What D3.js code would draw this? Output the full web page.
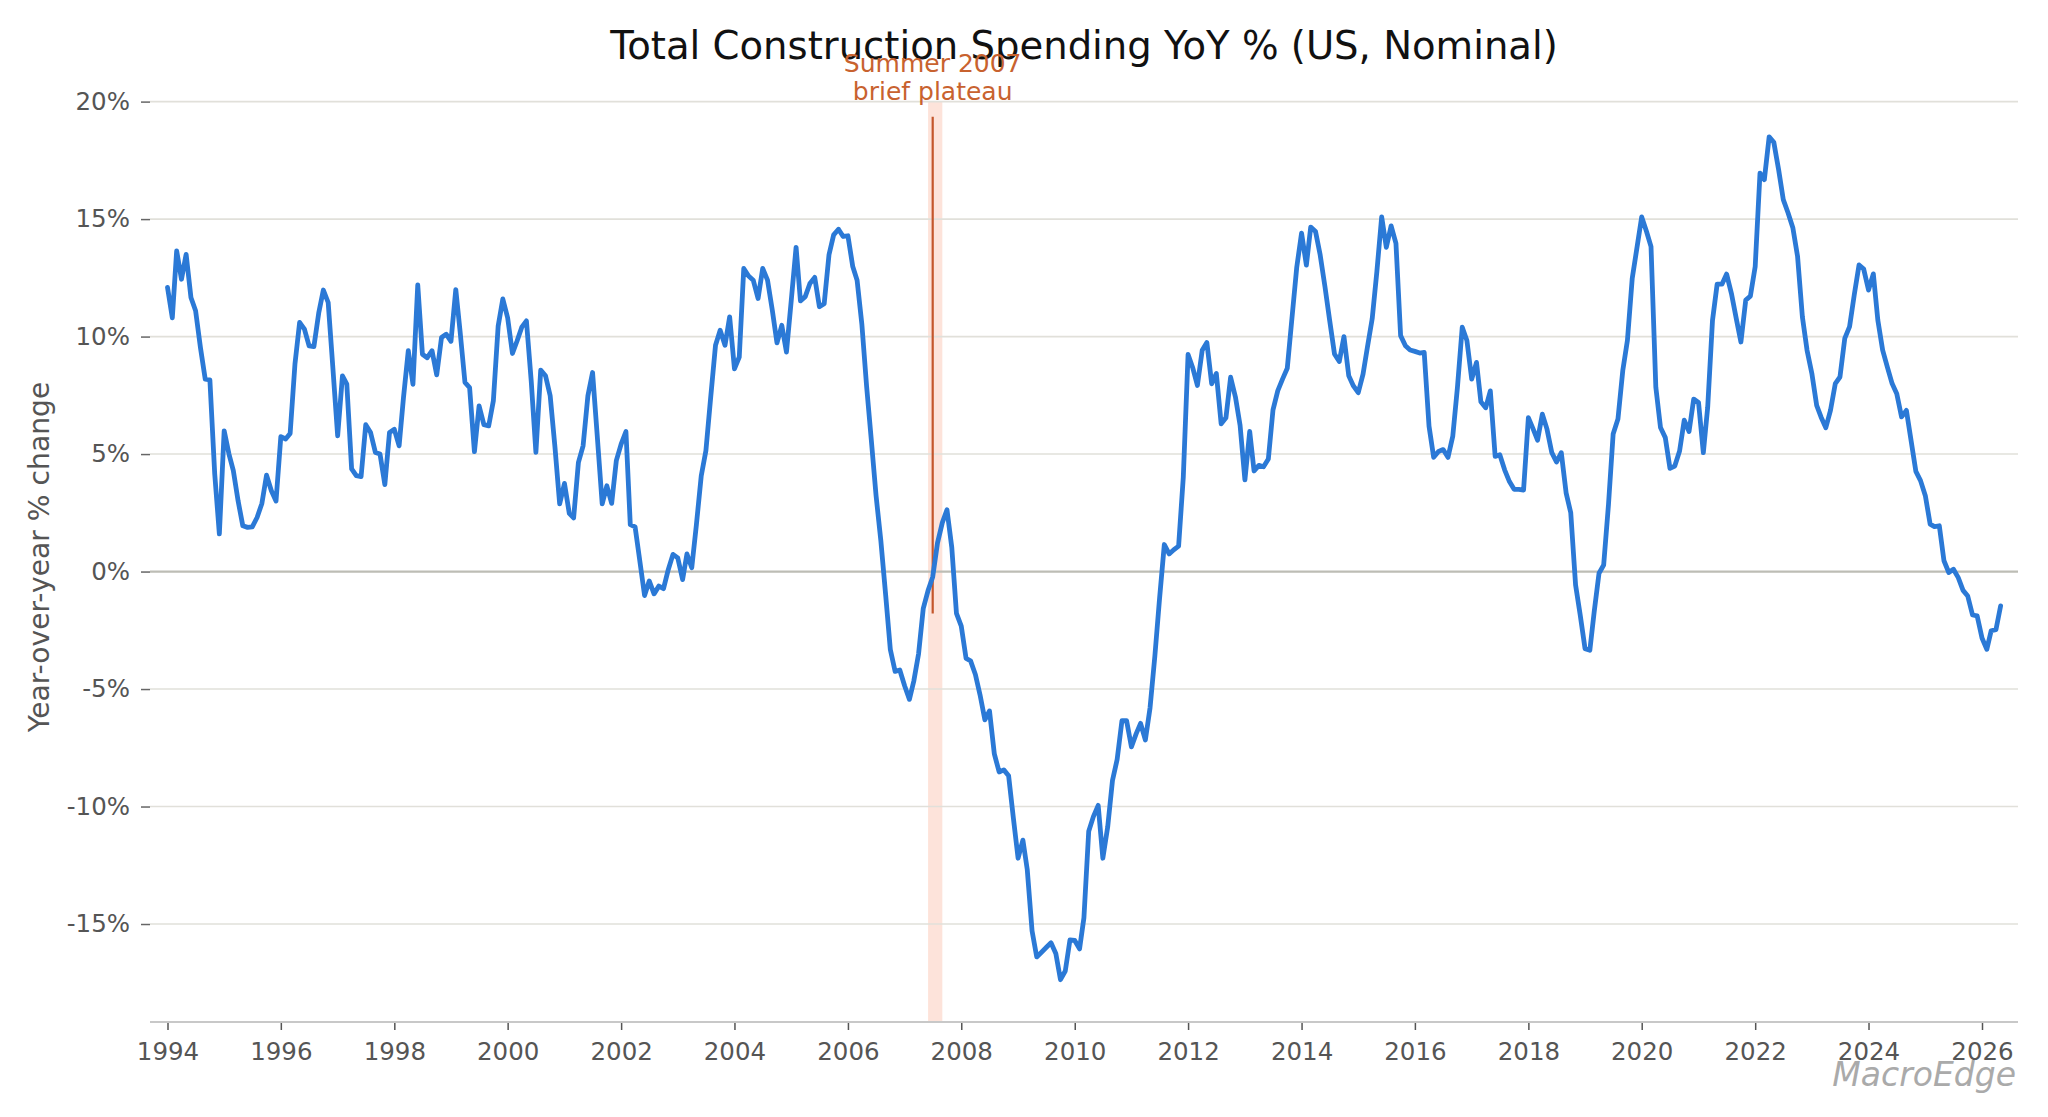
<!DOCTYPE html>
<html>
<head>
<meta charset="utf-8">
<script src="https://cdn.jsdelivr.net/npm/d3@7"></script>
<style>
  html, body { margin: 0; padding: 0; background: #ffffff; }
  svg { display: block; }
</style>
</head>
<body>
<svg id="chart" width="2048" height="1117"></svg>
<script>
// ---------------- DATA ----------------
const chartTitle = "Total Construction Spending YoY % (US, Nominal)";
const yAxisLabel = "Year-over-year % change";
const watermark = "MacroEdge";

// Monthly series start (Jan 1994), one value per month
const seriesStartYear = 1994;
const seriesStartMonth = 0;

const yoy1994_1999 = [
  12.09, 10.8, 13.65, 12.44, 13.5, 11.66, 11.1, 9.54, 8.19, 8.16, 4.17, 1.6,
  5.99, 5.0, 4.3, 3.0, 1.95, 1.88, 1.9, 2.3, 2.9, 4.1, 3.44, 3.0,
  5.74, 5.64, 5.88, 8.83, 10.6, 10.32, 9.6, 9.57, 11.0, 11.98, 11.45, 8.69,
  5.78, 8.33, 7.98, 4.37, 4.08, 4.04, 6.25, 5.92, 5.07, 5.0, 3.7, 5.92,
  6.05, 5.35, 7.4, 9.4, 7.97, 12.2, 9.25, 9.1, 9.4, 8.37, 9.96, 10.1,
  9.8, 12.0, 10.2, 8.05, 7.83, 5.1, 7.05, 6.25, 6.2, 7.27, 10.45, 11.6
];
const yoy2000_2005 = [
  10.8, 9.28, 9.8, 10.4, 10.67, 8.1, 5.07, 8.57, 8.33, 7.48, 5.28, 2.88,
  3.75, 2.48, 2.28, 4.65, 5.35, 7.48, 8.47, 5.7, 2.88, 3.65, 2.9, 4.72,
  5.42, 5.96, 2.0, 1.9, 0.47, -1.02, -0.4, -0.95, -0.62, -0.73, 0.09, 0.73,
  0.58, -0.34, 0.75, 0.16, 2.0, 4.07, 5.14, 7.42, 9.63, 10.27, 9.63, 10.84,
  8.63, 9.13, 12.9, 12.58, 12.4, 11.62, 12.9, 12.4, 11.12, 9.73, 10.48, 9.34,
  11.55, 13.8, 11.52, 11.7, 12.26, 12.52, 11.27, 11.4, 13.48, 14.33, 14.57, 14.26
];
const yoy2006_2011 = [
  14.29, 12.98, 12.4, 10.5, 7.9, 5.56, 3.24, 1.31, -1.0, -3.32, -4.25, -4.19,
  -4.86, -5.44, -4.67, -3.5, -1.58, -0.81, -0.23, 1.22, 2.08, 2.63, 1.02, -1.78,
  -2.32, -3.7, -3.8, -4.38, -5.25, -6.31, -5.93, -7.76, -8.53, -8.44, -8.69, -10.46,
  -12.2, -11.43, -12.68, -15.29, -16.4, -16.2, -16.0, -15.8, -16.25, -17.37, -17.0, -15.68,
  -15.7, -16.06, -14.74, -11.05, -10.43, -9.95, -12.2, -10.88, -8.89, -8.0, -6.35, -6.35,
  -7.46, -6.9, -6.46, -7.17, -5.8, -3.6, -1.17, 1.15, 0.75, 0.93, 1.08, 4.0
];
const yoy2012_2017 = [
  9.24, 8.65, 7.92, 9.42, 9.75, 7.99, 8.43, 6.29, 6.55, 8.27, 7.43, 6.22,
  3.9, 5.96, 4.28, 4.52, 4.46, 4.79, 6.88, 7.7, 8.2, 8.65, 10.85, 12.95,
  14.4, 13.04, 14.66, 14.47, 13.47, 12.11, 10.69, 9.26, 8.94, 10.0, 8.33, 7.9,
  7.61, 8.4, 9.54, 10.76, 12.76, 15.09, 13.8, 14.71, 13.97, 10.04, 9.61, 9.43,
  9.37, 9.3, 9.33, 6.19, 4.86, 5.11, 5.19, 4.86, 5.76, 7.83, 10.4, 9.83,
  8.19, 8.9, 7.23, 6.97, 7.69, 4.9, 4.97, 4.33, 3.83, 3.5, 3.5, 3.47
];
const yoy2018_2026 = [
  6.55, 6.06, 5.59, 6.7, 6.06, 5.06, 4.66, 5.06, 3.35, 2.5, -0.57, -1.85,
  -3.28, -3.35, -1.71, -0.07, 0.28, 2.85, 5.85, 6.49, 8.55, 9.84, 12.48, 13.76,
  15.09, 14.47, 13.83, 7.84, 6.13, 5.7, 4.39, 4.49, 5.13, 6.44, 5.96, 7.34,
  7.2, 5.06, 6.99, 10.69, 12.23, 12.23, 12.66, 11.83, 10.77, 9.77, 11.55, 11.72,
  12.98, 16.96, 16.68, 18.5, 18.27, 17.1, 15.83, 15.26, 14.62, 13.41, 10.84, 9.42,
  8.43, 7.07, 6.58, 6.12, 6.86, 8.0, 8.28, 9.92, 10.42, 11.77, 13.05, 12.87,
  11.98, 12.67, 10.7, 9.42, 8.71, 8.0, 7.57, 6.58, 6.86, 5.58, 4.26, 3.87,
  3.23, 2.02, 1.91, 1.95, 0.46, -0.04, 0.1, -0.26, -0.8, -1.04, -1.85, -1.89,
  -2.83, -3.31, -2.52, -2.47, -1.46
];

const xTickYears = [1994, 1996, 1998, 2000, 2002, 2004, 2006, 2008, 2010, 2012, 2014, 2016, 2018, 2020, 2022, 2024, 2026];
const yTickValues = [-15, -10, -5, 0, 5, 10, 15, 20];

// Annotation (Summer 2007)
const annotationLines = ["Summer 2007", "brief plateau"];
const annotationBand = [[2007, 5, 1], [2007, 8, 1]];   // Jun 1 – Sep 1 2007
const annotationLineDate = [2007, 6, 1];               // Jul 1 2007
const annotationLineRange = [-1.78, 19.35];            // % values of the marker line

// ---------------- BUILD ----------------
const allValues = [].concat(yoy1994_1999, yoy2000_2005, yoy2006_2011, yoy2012_2017, yoy2018_2026);
const series = allValues.map((v, i) => ({
  date: new Date(seriesStartYear, seriesStartMonth + i, 1),
  value: v
}));

const plotLeft = 150, plotRight = 2018;
const svg = d3.select("#chart");
const FONT = "'DejaVu Sans', 'Liberation Sans', sans-serif";

const x = d3.scaleTime()
  .domain([new Date(1994, 0, 1), new Date(2026, 0, 1)])
  .range([167.5, 1982]);

const y = d3.scaleLinear()
  .domain([-19.17, 20])
  .range([1022, 101.6]);

// annotation band (behind)
svg.append("rect")
  .attr("x", x(new Date(...annotationBand[0])))
  .attr("y", y(20))
  .attr("width", x(new Date(...annotationBand[1])) - x(new Date(...annotationBand[0])))
  .attr("height", y(-19.17) - y(20))
  .attr("fill", "#f7a386")
  .attr("fill-opacity", 0.3);

// gridlines
svg.append("g").selectAll("line")
  .data(yTickValues)
  .join("line")
  .attr("x1", plotLeft).attr("x2", plotRight)
  .attr("y1", d => y(d)).attr("y2", d => y(d))
  .attr("stroke", d => d === 0 ? "#bdbdb5" : "#e1e0da")
  .attr("stroke-width", d => d === 0 ? 2.2 : 1.6);

// y axis
const yAxis = d3.axisLeft(y)
  .tickValues(yTickValues)
  .tickSize(9)
  .tickPadding(11)
  .tickFormat(d => d + "%");
const gy = svg.append("g").attr("transform", `translate(${plotLeft},0)`).call(yAxis);
gy.select(".domain").remove();
gy.selectAll(".tick line").attr("stroke", "#666").attr("stroke-width", 1.5);
gy.selectAll(".tick text")
  .attr("fill", "#555")
  .style("font-family", FONT)
  .style("font-size", "24.5px");

// x axis
const xAxis = d3.axisBottom(x)
  .tickValues(xTickYears.map(yr => new Date(yr, 0, 1)))
  .tickSize(8)
  .tickPadding(13)
  .tickFormat(d => String(d.getFullYear()));
const gx = svg.append("g").attr("transform", `translate(0,${y(-19.17)})`).call(xAxis);
gx.select(".domain").remove();
gx.selectAll(".tick line").attr("stroke", "#555").attr("stroke-width", 1.5);
gx.selectAll(".tick text")
  .attr("fill", "#555")
  .style("font-family", FONT)
  .style("font-size", "24.5px");

// bottom spine
svg.append("line")
  .attr("x1", plotLeft).attr("x2", plotRight)
  .attr("y1", y(-19.17)).attr("y2", y(-19.17))
  .attr("stroke", "#c8c8c8")
  .attr("stroke-width", 2);

// annotation marker line
svg.append("line")
  .attr("x1", x(new Date(...annotationLineDate)))
  .attr("x2", x(new Date(...annotationLineDate)))
  .attr("y1", y(annotationLineRange[1]))
  .attr("y2", y(annotationLineRange[0]))
  .attr("stroke", "#c4562b")
  .attr("stroke-width", 2.2);

// data line
const line = d3.line()
  .x(d => x(d.date))
  .y(d => y(d.value));
svg.append("path")
  .datum(series)
  .attr("d", line)
  .attr("fill", "none")
  .attr("stroke", "#2b79d6")
  .attr("stroke-width", 4.8)
  .attr("stroke-linejoin", "round")
  .attr("stroke-linecap", "round");

// title
svg.append("text")
  .attr("x", (plotLeft + plotRight) / 2)
  .attr("y", 58.5)
  .attr("text-anchor", "middle")
  .attr("fill", "#111")
  .style("font-family", FONT)
  .style("font-size", "38.6px")
  .text(chartTitle);

// annotation text
const annX = x(new Date(...annotationLineDate));
svg.append("g").selectAll("text")
  .data(annotationLines)
  .join("text")
  .attr("x", annX)
  .attr("y", (d, i) => 72 + i * 28)
  .attr("text-anchor", "middle")
  .attr("fill", "#c8622f")
  .style("font-family", FONT)
  .style("font-size", "25px")
  .text(d => d);

// y axis label
svg.append("text")
  .attr("transform", `translate(49,557) rotate(-90)`)
  .attr("text-anchor", "middle")
  .attr("fill", "#555")
  .style("font-family", FONT)
  .style("font-size", "28.2px")
  .text(yAxisLabel);

// watermark
svg.append("text")
  .attr("x", 2016)
  .attr("y", 1086)
  .attr("text-anchor", "end")
  .attr("fill", "#aaaaaa")
  .style("font-family", FONT)
  .style("font-style", "italic")
  .style("font-size", "33px")
  .text(watermark);
</script>
</body>
</html>
